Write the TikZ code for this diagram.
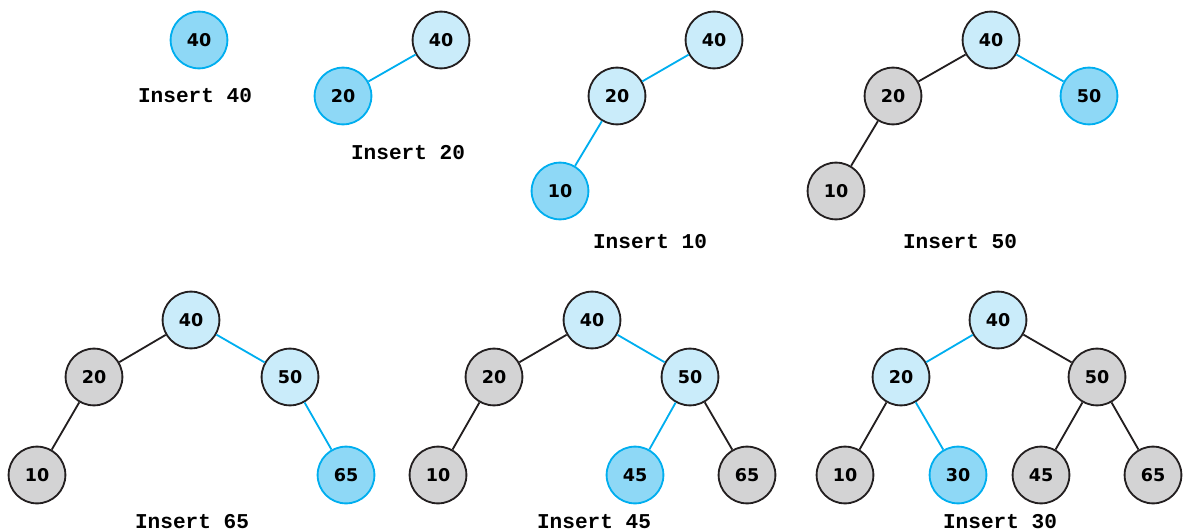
\documentclass[tikz,border=0pt]{standalone}
\usepackage{fontspec}
\setmainfont{DejaVu Sans}
\newfontfamily\labelfont{Liberation Mono}
\usepackage{tikz}
\definecolor{newBlue}{RGB}{142, 216, 246}
\definecolor{pathBlue}{RGB}{202, 236, 250}
\definecolor{restGray}{RGB}{211, 211, 212}
\definecolor{edgeBlue}{RGB}{0, 174, 239}
\definecolor{edgeDark}{RGB}{35, 31, 32}

\begin{document}
\begin{tikzpicture}[x=0.025cm, y=-0.025cm,
    key/.style={circle, minimum size=1.42cm, inner sep=0pt, line width=1.3pt, font=\bfseries\fontsize{12.5}{14}\selectfont},
    newkey/.style={key, draw=edgeBlue, fill=newBlue},
    pathkey/.style={key, draw=edgeDark, fill=pathBlue},
    restkey/.style={key, draw=edgeDark, fill=restGray},
    hot/.style={draw=edgeBlue, line width=1.3pt},
    cold/.style={draw=edgeDark, line width=1.3pt},
    caption/.style={font=\labelfont\bfseries\fontsize{15}{17}\selectfont}]
    \useasboundingbox (0,0) rectangle (1190,531);
    % Insert 40
    \node[newkey] (a40) at (199,40) {40};
    \node[caption] (acap) at (195,96) {Insert 40};
    % Insert 20
    \node[pathkey] (b40) at (441,40) {40};
    \node[newkey] (b20) at (343,96) {20};
    \draw[hot] (b40) -- (b20);
    \node[caption] (bcap) at (408,153) {Insert 20};
    % Insert 10
    \node[pathkey] (c40) at (714,40) {40};
    \node[pathkey] (c20) at (617,96) {20};
    \node[newkey] (c10) at (560,191) {10};
    \draw[hot] (c40) -- (c20);
    \draw[hot] (c20) -- (c10);
    \node[caption] (ccap) at (650,242) {Insert 10};
    % Insert 50
    \node[pathkey] (d40) at (991,40) {40};
    \node[restkey] (d20) at (893,96) {20};
    \node[newkey] (d50) at (1089,96) {50};
    \node[restkey] (d10) at (836,191) {10};
    \draw[cold] (d40) -- (d20);
    \draw[cold] (d20) -- (d10);
    \draw[hot] (d40) -- (d50);
    \node[caption] (dcap) at (960,242) {Insert 50};
    % Insert 65
    \node[pathkey] (e40) at (191,320) {40};
    \node[restkey] (e20) at (94,377) {20};
    \node[pathkey] (e50) at (290,377) {50};
    \node[restkey] (e10) at (37,475) {10};
    \node[newkey] (e65) at (346,475) {65};
    \draw[cold] (e40) -- (e20);
    \draw[cold] (e20) -- (e10);
    \draw[hot] (e40) -- (e50);
    \draw[hot] (e50) -- (e65);
    \node[caption] (ecap) at (192,522) {Insert 65};
    % Insert 45
    \node[pathkey] (f40) at (592,320) {40};
    \node[restkey] (f20) at (494,377) {20};
    \node[pathkey] (f50) at (690,377) {50};
    \node[restkey] (f10) at (438,475) {10};
    \node[newkey] (f45) at (635,475) {45};
    \node[restkey] (f65) at (747,475) {65};
    \draw[cold] (f40) -- (f20);
    \draw[cold] (f20) -- (f10);
    \draw[hot] (f40) -- (f50);
    \draw[hot] (f50) -- (f45);
    \draw[cold] (f50) -- (f65);
    \node[caption] (fcap) at (594,522) {Insert 45};
    % Insert 30
    \node[pathkey] (g40) at (998,320) {40};
    \node[pathkey] (g20) at (901,377) {20};
    \node[restkey] (g50) at (1097,377) {50};
    \node[restkey] (g10) at (845,475) {10};
    \node[newkey] (g30) at (958,475) {30};
    \node[restkey] (g45) at (1041,475) {45};
    \node[restkey] (g65) at (1153,475) {65};
    \draw[hot] (g40) -- (g20);
    \draw[cold] (g20) -- (g10);
    \draw[hot] (g20) -- (g30);
    \draw[cold] (g40) -- (g50);
    \draw[cold] (g50) -- (g45);
    \draw[cold] (g50) -- (g65);
    \node[caption] (gcap) at (1000,522) {Insert 30};
\end{tikzpicture}
\end{document}
